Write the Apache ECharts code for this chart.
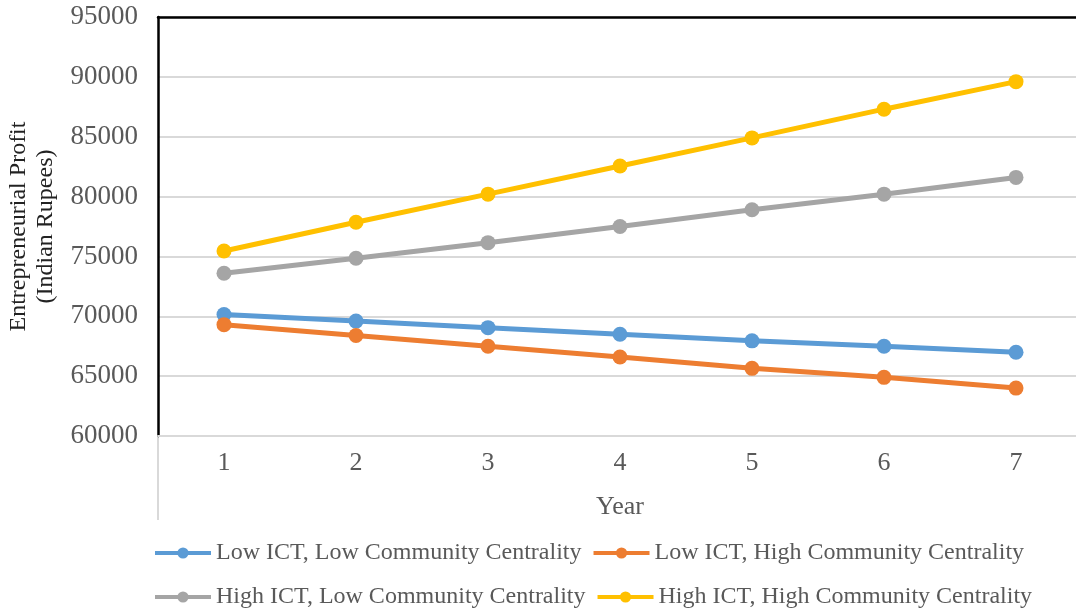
<!DOCTYPE html>
<html>
<head>
<meta charset="UTF-8">
<title>Entrepreneurial Profit</title>
<script src="https://cdn.jsdelivr.net/npm/echarts@6/dist/echarts.min.js"></script>
<style>
  html, body { margin: 0; padding: 0; background: #fff; }
  #main { width: 1076px; height: 613px; }
</style>
</head>
<body>
<div id="main"></div>
<script>
// data
var years = ['1', '2', '3', '4', '5', '6', '7'];
var lowLow   = [70150, 69600, 69050, 68500, 67950, 67500, 67000];
var lowHigh  = [69300, 68400, 67500, 66600, 65650, 64900, 64000];
var highLow  = [73600, 74850, 76150, 77500, 78900, 80200, 81600];
var highHigh = [75450, 77850, 80200, 82550, 84900, 87300, 89600];
var names = [
  'Low ICT, Low Community Centrality',
  'Low ICT, High Community Centrality',
  'High ICT, Low Community Centrality',
  'High ICT, High Community Centrality'
];
var colors = ['#5B9BD5', '#ED7D31', '#A5A5A5', '#FFC000'];

var font = 'Liberation Serif, Times New Roman, serif';
var myChart = echarts.init(document.getElementById('main'));

function mk(i, data) {
  return {
    name: names[i], type: 'line', data: data,
    symbol: 'circle', symbolSize: 15,
    lineStyle: { width: 5, color: colors[i] },
    itemStyle: { color: colors[i] }
  };
}

var legendText = { fontFamily: font, fontSize: 24, color: '#595959' };
function legendRow(items, top) {
  return {
    data: items, left: 148, top: top, itemWidth: 56, itemHeight: 14, itemGap: 10,
    lineStyle: { width: 4 }, textStyle: legendText
  };
}

option = {
  animation: false,
  grid: { left: 158, top: 17, width: 924, bottom: 177, outerBoundsMode: 'none', containLabel: false },
  legend: [legendRow([names[0], names[1]], 536), legendRow([names[2], names[3]], 580)],
  xAxis: [{
    type: 'category', data: years,
    name: 'Year', nameLocation: 'middle', nameGap: 58,
    nameTextStyle: { fontFamily: font, fontSize: 26, color: '#595959' },
    axisLine: { lineStyle: { color: '#d9d9d9', width: 2 } },
    axisTick: { show: false },
    axisLabel: { fontFamily: font, fontSize: 26, color: '#595959', margin: 14 }
  }, {
    type: 'category', data: years, position: 'top',
    axisLine: { lineStyle: { color: '#000', width: 2.5 } },
    axisTick: { show: false }, axisLabel: { show: false }
  }],
  yAxis: {
    type: 'value', min: 60000, max: 95000, interval: 5000,
    name: 'Entrepreneurial Profit\n(Indian Rupees)', nameLocation: 'middle', nameGap: 96,
    nameTextStyle: { fontFamily: font, fontSize: 24, color: '#222', lineHeight: 27 },
    axisLine: { show: true, lineStyle: { color: '#000', width: 2.5 } },
    axisTick: { show: false },
    axisLabel: { fontFamily: font, fontSize: 27, color: '#595959', margin: 20, formatter: function (v) { return String(v); } },
    splitLine: { lineStyle: { color: '#d9d9d9', width: 2 } }
  },
  graphic: [{
    type: 'line', shape: { x1: 158, y1: 436, x2: 158, y2: 520 },
    style: { stroke: '#d9d9d9', lineWidth: 2 }
  }],
  series: [mk(0, lowLow), mk(1, lowHigh), mk(2, highLow), mk(3, highHigh)]
};

myChart.setOption(option, true);
</script>
</body>
</html>
